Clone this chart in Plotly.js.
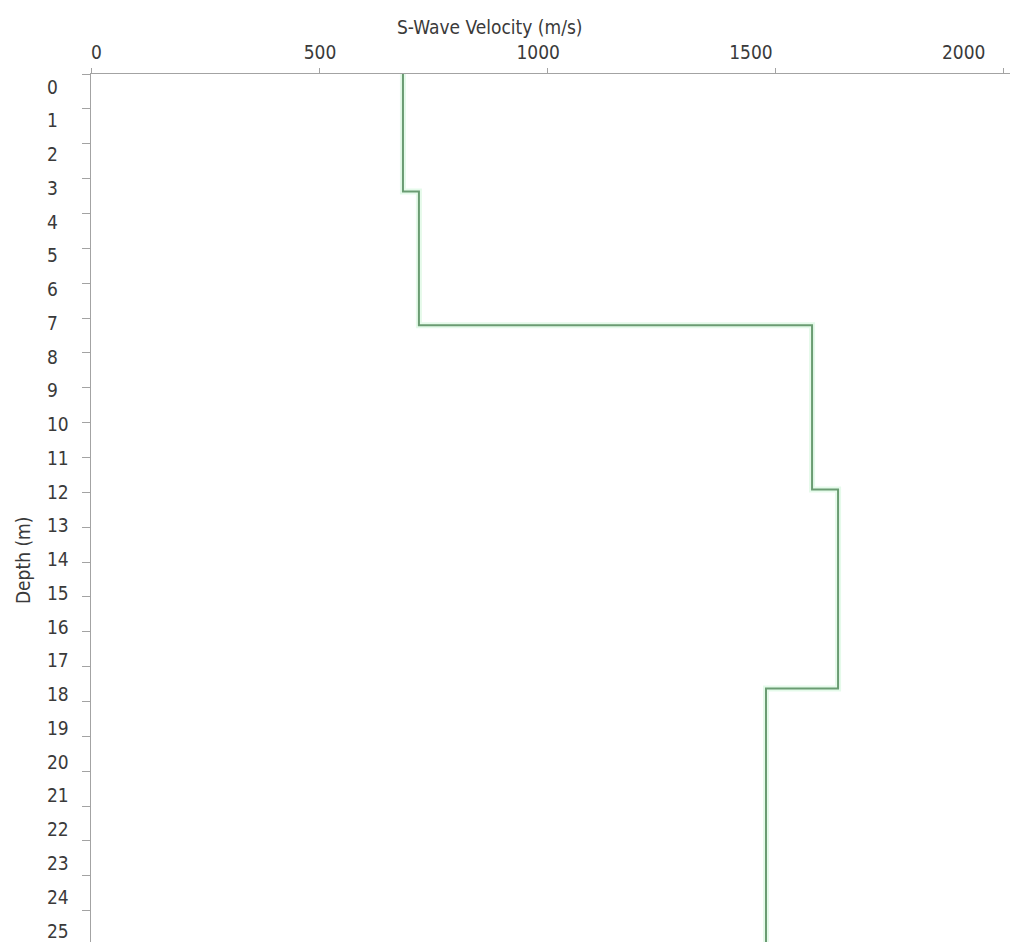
<!DOCTYPE html>
<html>
<head>
<meta charset="utf-8">
<script src="https://cdn.plot.ly/plotly-3.0.1.min.js"></script>
<style>html,body{margin:0;padding:0;background:#fff;}#chart{width:1014px;height:942px;}</style>
</head>
<body>
<div id="chart"></div>
<script>
// Layer tops (m) and shear-wave velocities (m/s); last point closes the half-space
const layerTopDepth = [0, 3.37, 7.21, 11.92, 17.63, 25];
const swaveVelocity = [684, 719, 1581, 1638, 1480, 1480];

const velocityTicks = [0, 500, 1000, 1500, 2000];
const velocityTickText = ['0', '500', '1000', '1500', '2000'];
const depthTicks = [0,1,2,3,4,5,6,7,8,9,10,11,12,13,14,15,16,17,18,19,20,21,22,23,24,25];
const depthTickText = depthTicks.map(String);

const xTitle = 'S-Wave Velocity (m/s)';
const yTitle = 'Depth (m)';

const FONT = '"DejaVu Sans Condensed", "DejaVu Sans", "Liberation Sans", sans-serif';
const AXIS_COLOR = '#a3a3a3';
const TEXT_COLOR = '#3a3a3a';

const traces = [
  {
    x: swaveVelocity, y: layerTopDepth, type: 'scatter', mode: 'lines',
    line: {shape: 'vh', color: 'rgba(180,240,195,0.35)', width: 6},
    hoverinfo: 'skip', showlegend: false
  },
  {
    x: swaveVelocity, y: layerTopDepth, type: 'scatter', mode: 'lines',
    line: {shape: 'vh', color: '#6a9c72', width: 2},
    showlegend: false
  }
];

const layout = {
  width: 1014, height: 942,
  margin: {l: 40, r: 4, t: 74, b: 0},
  paper_bgcolor: '#ffffff', plot_bgcolor: '#ffffff',
  font: {family: FONT, size: 19, color: TEXT_COLOR},
  showlegend: false,
  xaxis: {
    domain: [51/970, 1], range: [0, 2015], side: 'top',
    tickmode: 'array', tickvals: velocityTicks, showticklabels: false,
    ticks: 'outside', ticklen: 5, tickcolor: AXIS_COLOR, tickwidth: 1,
    showline: true, linecolor: AXIS_COLOR, linewidth: 1.5,
    showgrid: false, zeroline: false, fixedrange: true
  },
  xaxis2: {
    overlaying: 'x', side: 'top', range: [0, 2160],
    tickmode: 'array', tickvals: velocityTicks, ticktext: velocityTickText,
    ticks: '', showline: false, showgrid: false, zeroline: false,
    ticklabelposition: 'outside right', ticklabelstandoff: 10,
    tickfont: {family: FONT, size: 19, color: TEXT_COLOR}
  },
  yaxis: {
    domain: [0, 1], range: [24.9, 0], anchor: 'x',
    tickmode: 'array', tickvals: depthTicks, showticklabels: false,
    ticks: 'outside', ticklen: 8, tickcolor: AXIS_COLOR, tickwidth: 1,
    showline: true, linecolor: AXIS_COLOR, linewidth: 1.5,
    showgrid: false, zeroline: false, fixedrange: true
  },
  yaxis2: {
    overlaying: 'y', range: [25.33, -0.385], anchor: 'free', position: 0, side: 'right',
    tickmode: 'array', tickvals: depthTicks, ticktext: depthTickText,
    ticks: '', showline: false, showgrid: false, zeroline: false,
    ticklabelstandoff: 6,
    tickfont: {family: FONT, size: 19, color: TEXT_COLOR}
  },
  annotations: [
    {text: xTitle, xref: 'paper', yref: 'paper', x: 0.366, y: 1.054,
     xanchor: 'left', yanchor: 'middle', showarrow: false,
     font: {family: FONT, size: 19, color: TEXT_COLOR}},
    {text: yTitle, xref: 'paper', yref: 'paper', x: -0.0175, y: 0.44,
     xanchor: 'center', yanchor: 'middle', textangle: -90, showarrow: false,
     font: {family: FONT, size: 19, color: TEXT_COLOR}}
  ]
};

// empty trace binding the label axes so they render
traces.push({x: [null], y: [null], xaxis: 'x2', yaxis: 'y2', type: 'scatter', mode: 'lines', showlegend: false, hoverinfo: 'skip'});

Plotly.newPlot('chart', traces, layout, {displayModeBar: false, staticPlot: true});
</script>
</body>
</html>
